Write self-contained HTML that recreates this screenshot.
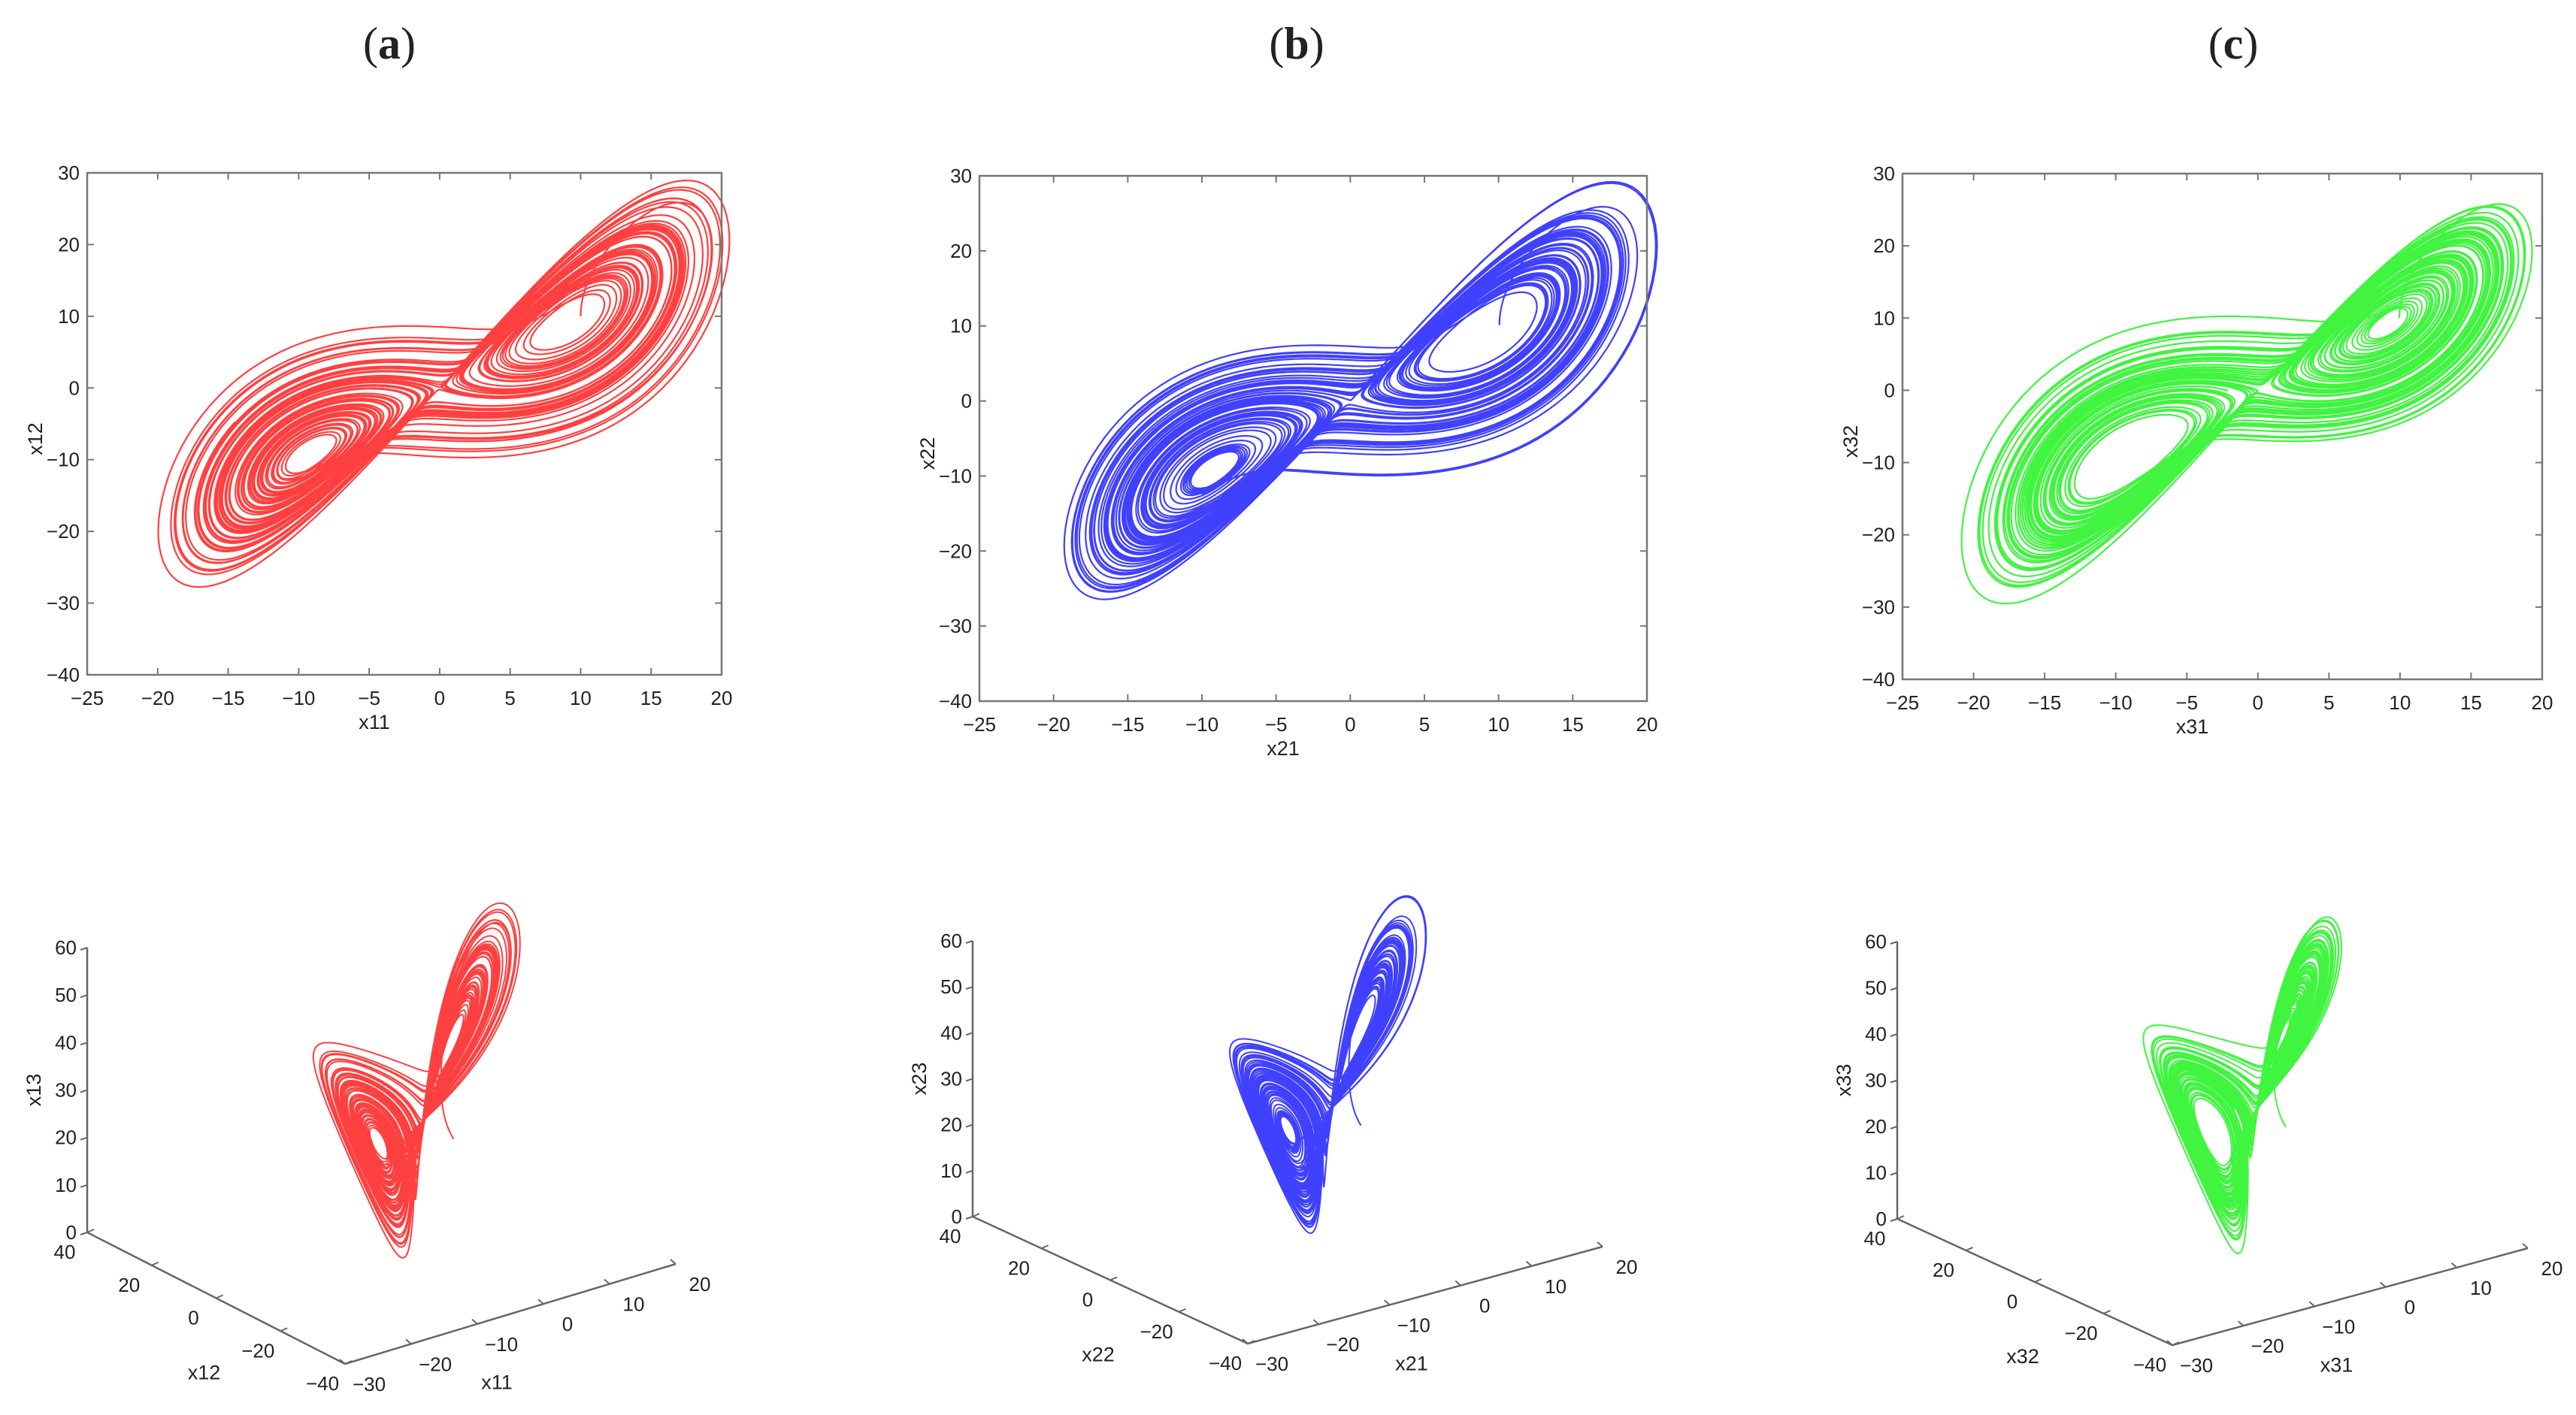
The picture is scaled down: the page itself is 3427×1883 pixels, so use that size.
<!DOCTYPE html>
<html><head><meta charset="utf-8"><style>
html,body{margin:0;padding:0;background:#fff;}
svg{display:block;}
text{font-family:"Liberation Sans",Arial,sans-serif;fill:#222;}
</style></head><body>
<svg id="fig" width="3427" height="1883" viewBox="0 0 3427 1883" xmlns="http://www.w3.org/2000/svg">
<rect width="3427" height="1883" fill="#fff"/>
<text x="518" y="78" text-anchor="middle" style="font-family:'Liberation Serif',serif;font-size:60px">(<tspan font-weight="bold">a</tspan>)</text>
<text x="1725" y="78" text-anchor="middle" style="font-family:'Liberation Serif',serif;font-size:60px">(<tspan font-weight="bold">b</tspan>)</text>
<text x="2971" y="78" text-anchor="middle" style="font-family:'Liberation Serif',serif;font-size:60px">(<tspan font-weight="bold">c</tspan>)</text>
</svg>
<script>
// ---- data ----
const sigmaVals = [10, 10, 10];
const rhoVals = [33, 33, 33];
const betaVals = [2.6667, 2.6667, 2.6667];
const initX = [10, 10.05, 9.95];
const initY = [10, 10.1, 10.0];
const initZ = [10, 10.0, 10.1];
const tEndVals = [80, 80, 80];
const xTicks2D = [-25, -20, -15, -10, -5, 0, 5, 10, 15, 20];
const yTicks2D = [-40, -30, -20, -10, 0, 10, 20, 30];
const zTicks3D = [0, 10, 20, 30, 40, 50, 60];
const xTicks3D = [-30, -20, -10, 0, 10, 20];
const yTicks3D = [40, 20, 0, -20, -40];
const seriesNames = ['1', '2', '3'];
const seriesColors = ['#ff0000', '#0000ff', '#00f000'];

// ---- layout (not data) ----
const P2 = [
  {l:116, r:960, t:230, b:898},
  {l:1303, r:2191, t:234, b:933},
  {l:2531, r:3382, t:231, b:904}
];
const P3 = [
  {O:[116,1640], Ex:[440,-133], Ey:[343,175], Ez:[0,-379]},
  {O:[1294,1619], Ex:[472,-129], Ey:[366,169], Ez:[0,-367]},
  {O:[2524,1622], Ex:[473,-129], Ey:[366,168], Ez:[0,-369]}
];
const NS = 'http://www.w3.org/2000/svg';
const svg = document.getElementById('fig');
function mk(tag, attrs, parent){
  const e = document.createElementNS(NS, tag);
  for (const k in attrs) e.setAttribute(k, attrs[k]);
  (parent||svg).appendChild(e);
  return e;
}
function fmt(v){ return v < 0 ? '\u2212' + Math.abs(v) : String(v); }

function lorenz(i){
  const s = sigmaVals[i], r = rhoVals[i], b = betaVals[i];
  let x = initX[i], y = initY[i], z = initZ[i];
  const dt = 0.004, n = Math.round(tEndVals[i]/dt);
  const X=[x],Y=[y],Z=[z];
  const f=(x,y,z)=>[s*(y-x), x*(r-z)-y, x*y-b*z];
  for (let k=0;k<n;k++){
    const k1=f(x,y,z);
    const k2=f(x+dt/2*k1[0],y+dt/2*k1[1],z+dt/2*k1[2]);
    const k3=f(x+dt/2*k2[0],y+dt/2*k2[1],z+dt/2*k2[2]);
    const k4=f(x+dt*k3[0],y+dt*k3[1],z+dt*k3[2]);
    x+=dt/6*(k1[0]+2*k2[0]+2*k3[0]+k4[0]);
    y+=dt/6*(k1[1]+2*k2[1]+2*k3[1]+k4[1]);
    z+=dt/6*(k1[2]+2*k2[2]+2*k3[2]+k4[2]);
    X.push(x);Y.push(y);Z.push(z);
  }
  return {X,Y,Z};
}

for (let i=0;i<3;i++){
  const d = lorenz(i);
  const col = seriesColors[i];
  const nm = seriesNames[i];
  // ---------- 2D panel ----------
  const p = P2[i];
  const g = mk('g', {});
  
  
  const sx = v => p.l + (v - xTicks2D[0])/(xTicks2D[xTicks2D.length-1]-xTicks2D[0])*(p.r-p.l);
  const sy = v => p.b - (v - yTicks2D[0])/(yTicks2D[yTicks2D.length-1]-yTicks2D[0])*(p.b-p.t);
  let pts = [];
  for (let k=0;k<d.X.length;k++) pts.push(sx(d.X[k]).toFixed(1)+','+sy(d.Y[k]).toFixed(1));
  const tr = mk('path', {d:'M'+pts.join('L'), fill:'none', stroke:col, 'stroke-width':2.2, 'stroke-opacity':0.75, 'stroke-linejoin':'round'}, g);
  
  
  const box = mk('rect', {x:p.l, y:p.t, width:p.r-p.l, height:p.b-p.t, fill:'none', stroke:'#777', 'stroke-width':2.5}, g);
  
  
  xTicks2D.forEach(v=>{
    const x = sx(v);
    mk('line',{x1:x,y1:p.b,x2:x,y2:p.b-9,stroke:'#777','stroke-width':2},g);
    mk('line',{x1:x,y1:p.t,x2:x,y2:p.t+9,stroke:'#777','stroke-width':2},g);
    const t = mk('text',{x:x,y:p.b+40,'text-anchor':'middle','font-size':26},g);
    t.textContent = fmt(v);
    
    
  });
  yTicks2D.forEach(v=>{
    const y = sy(v);
    mk('line',{x1:p.l,y1:y,x2:p.l+9,y2:y,stroke:'#777','stroke-width':2},g);
    mk('line',{x1:p.r,y1:y,x2:p.r-9,y2:y,stroke:'#777','stroke-width':2},g);
    const t = mk('text',{x:p.l-10,y:y+9,'text-anchor':'end','font-size':26},g);
    t.textContent = fmt(v);
    
    
  });
  const xt = mk('text',{x:(p.l+p.r)/2 - 40, y:p.b+72, 'text-anchor':'middle','font-size':27},g);
  xt.textContent = 'x'+nm+'1';
  
  
  const ytx = p.l-60, yty = (p.t+p.b)/2 + 20;
  const yt = mk('text',{x:ytx, y:yty, 'text-anchor':'middle','font-size':27, transform:'rotate(-90 '+ytx+' '+yty+')'},g);
  yt.textContent = 'x'+nm+'2';
  
  

  // ---------- 3D panel ----------
  const q = P3[i];
  const g3 = mk('g', {});
  
  
  const xa = xTicks3D[0], xb = xTicks3D[xTicks3D.length-1];
  const ya = yTicks3D[0], yb = yTicks3D[yTicks3D.length-1];
  const za = zTicks3D[0], zb = zTicks3D[zTicks3D.length-1];
  const B = (x,y,z) => {
    const u=(x-xa)/(xb-xa), w=(y-ya)/(yb-ya), h=(z-za)/(zb-za);
    return [q.O[0]+u*q.Ex[0]+w*q.Ey[0]+h*q.Ez[0], q.O[1]+u*q.Ex[1]+w*q.Ey[1]+h*q.Ez[1]];
  };
  const sc = -q.Ez[1]/379;
  const org = B(0,0,0);
  const Ax=[8.8,-3.6], Ay=[-3.6,-3.6], Az=[0,-6.0];
  let p3 = [];
  for (let k=0;k<d.X.length;k++){
    const x=d.X[k], y=d.Y[k], z=d.Z[k];
    const px = org[0] + sc*(Ax[0]*x+Ay[0]*y+Az[0]*z);
    const py = org[1] + sc*(Ax[1]*x+Ay[1]*y+Az[1]*z);
    p3.push(px.toFixed(1)+','+py.toFixed(1));
  }
  const tr3 = mk('path', {d:'M'+p3.join('L'), fill:'none', stroke:col, 'stroke-width':2, 'stroke-opacity':0.75, 'stroke-linejoin':'round'}, g3);
  
  
  const c0 = B(xa,ya,za), cz = B(xa,ya,zb), cy = B(xa,yb,za), cx = B(xb,yb,za);
  const ax1 = mk('polyline',{points:[cz,c0,cy,cx].map(a=>a.join(',')).join(' '), fill:'none', stroke:'#666','stroke-width':2.5},g3);
  
  
  zTicks3D.forEach(v=>{
    const pt = B(xa,ya,v);
    mk('line',{x1:pt[0],y1:pt[1],x2:pt[0]-9,y2:pt[1]+3,stroke:'#666','stroke-width':2},g3);
    const t = mk('text',{x:pt[0]-14,y:pt[1]+9,'text-anchor':'end','font-size':26},g3);
    t.textContent = fmt(v);
    
    
  });
  yTicks3D.forEach(v=>{
    const pt = B(xa,v,za);
    mk('line',{x1:pt[0],y1:pt[1],x2:pt[0]+9,y2:pt[1]-4,stroke:'#666','stroke-width':2},g3);
    const t = mk('text',{x:pt[0]-30,y:pt[1]+35,'text-anchor':'middle','font-size':26},g3);
    t.textContent = fmt(v);
    
    
  });
  xTicks3D.forEach(v=>{
    const pt = B(v,yb,za);
    mk('line',{x1:pt[0],y1:pt[1],x2:pt[0]-7,y2:pt[1]-6,stroke:'#666','stroke-width':2},g3);
    const t = mk('text',{x:pt[0]+32,y:pt[1]+36,'text-anchor':'middle','font-size':26},g3);
    t.textContent = fmt(v);
    
    
  });
  const my = B(xa,(ya+yb)/2,za), mx = B((xa+xb)/2,yb,za), mz = B(xa,ya,(za+zb)/2);
  const t1 = mk('text',{x:my[0]-16,y:my[1]+108,'text-anchor':'middle','font-size':27},g3);
  t1.textContent = 'x'+nm+'2';
  
  
  const t2 = mk('text',{x:mx[0]-18,y:mx[1]+100,'text-anchor':'middle','font-size':27},g3);
  t2.textContent = 'x'+nm+'1';
  
  
  const zx = mz[0]-62, zy = mz[1];
  const t3 = mk('text',{x:zx,y:zy,'text-anchor':'middle','font-size':27, transform:'rotate(-90 '+zx+' '+zy+')'},g3);
  t3.textContent = 'x'+nm+'3';
  
  
}
</script>
</body></html>
